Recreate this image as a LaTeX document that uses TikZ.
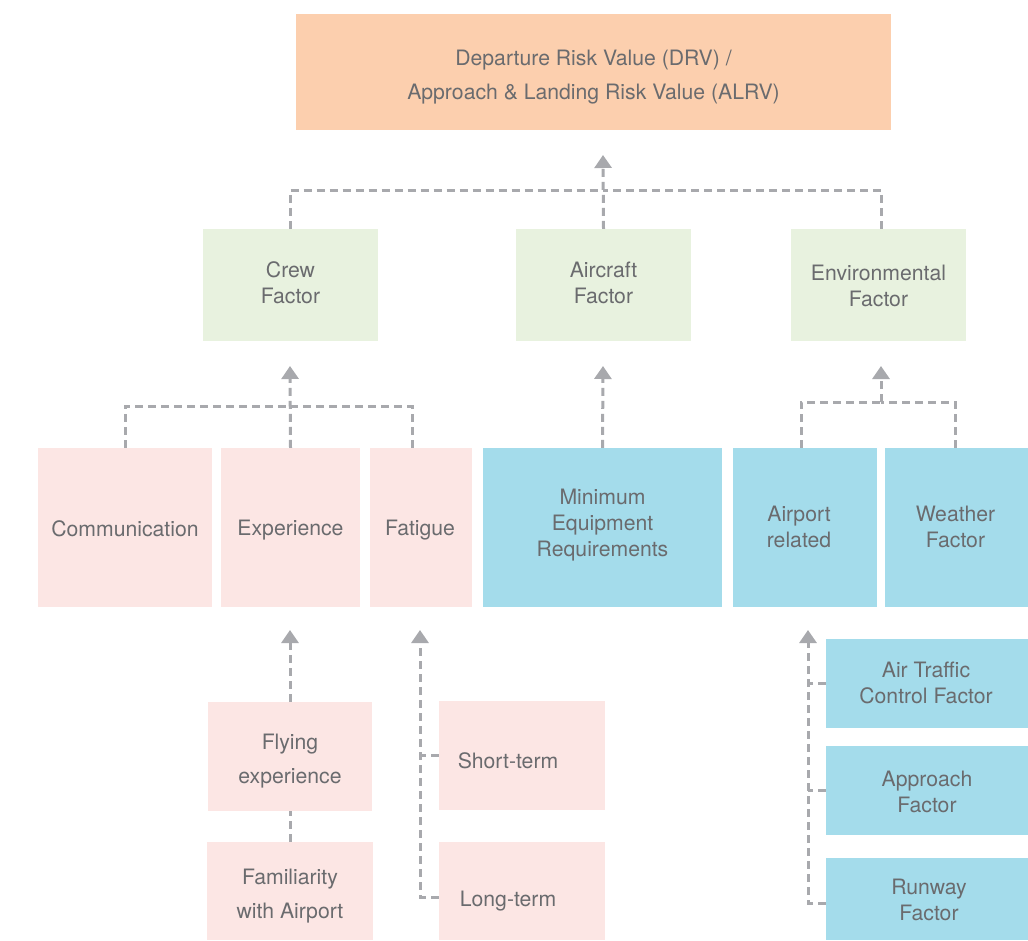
\documentclass[tikz,border=0pt]{standalone}
\usepackage{fontspec}
\setmainfont{TeX Gyre Heros}
\usetikzlibrary{arrows.meta}
\definecolor{txt}{HTML}{6A6B6E}
\definecolor{lineg}{HTML}{A8A9AD}
\definecolor{orangebox}{HTML}{FCCFAE}
\definecolor{greenbox}{HTML}{E8F2DF}
\definecolor{pinkbox}{HTML}{FCE6E4}
\definecolor{bluebox}{HTML}{A4DCEB}
\tikzset{
  box/.style={inner sep=0pt},
  label/.style={inner sep=0pt, align=center, text=txt,
    font=\fontsize{21.2}{26}\selectfont},
  wide/.style={font=\fontsize{21.2}{34}\selectfont},
  top/.style={box, fill=orangebox},
  grn/.style={box, fill=greenbox},
  pnk/.style={box, fill=pinkbox},
  blu/.style={box, fill=bluebox},
  conn/.style={draw=lineg, line width=3pt, dash pattern=on 8pt off 5pt},
  arr/.style={conn, -{Triangle[width=17pt,length=13pt]}},
}
% box by its corners (left, top, right, bottom) in a top-down frame,
% with its text moved by (dx, dy) from the centre
\newcommand{\boxat}[9]{%
  \node[#1, minimum width=#5-#3, minimum height=#6-#4] (#2) at ({(#3+#5)/2},{(#4+#6)/2}) {};
  \node[label] (#2-text) at ([xshift=#7pt,yshift=-#8pt]#2.center) {#9};}
\newcommand{\widebox}[9]{%
  \node[#1, minimum width=#5-#3, minimum height=#6-#4] (#2) at ({(#3+#5)/2},{(#4+#6)/2}) {};
  \node[label, wide] (#2-text) at ([xshift=#7pt,yshift=-#8pt]#2.center) {#9};}
\begin{document}
\begin{tikzpicture}[x=1pt,y=-1pt]
\useasboundingbox (0,0) rectangle (1028,940);

% top level
\widebox{top}{drv}{296}{14}{891}{130}{0}{5}{Departure Risk Value (DRV) /\\Approach \& Landing Risk Value (ALRV)}

% factor level
\boxat{grn}{crew}{203}{229}{378}{341}{0}{-2}{Crew\\Factor}
\boxat{grn}{aircraft}{516}{229}{691}{341}{0}{-2}{Aircraft\\Factor}
\boxat{grn}{env}{791}{229}{966}{341}{0}{1}{Environmental\\Factor}

% sub-factor level
\boxat{pnk}{comm}{38}{448}{212}{607}{0}{1}{Communication}
\boxat{pnk}{expe}{221}{448}{360}{607}{0}{3}{Experience}
\boxat{pnk}{fatigue}{370}{448}{472}{607}{-1}{3}{Fatigue}
\boxat{blu}{mer}{483}{448}{722}{607}{0}{-2}{Minimum\\Equipment\\Requirements}
\boxat{blu}{airport}{733}{448}{877}{607}{-6}{-1}{Airport\\related}
\boxat{blu}{weather}{885}{448}{1028}{607}{-1}{-1}{Weather\\Factor}

% detail level
\widebox{pnk}{fly}{208}{702}{372}{811}{0}{5}{Flying\\experience}
\widebox{pnk}{fam}{207}{842}{373}{940}{0}{5}{Familiarity\\with Airport}
\boxat{pnk}{short}{439}{701}{605}{810}{-14}{5}{Short-term}
\boxat{pnk}{long}{439}{842}{605}{940}{-14}{10}{Long-term}
\boxat{blu}{atc}{826}{639}{1028}{728}{-1}{-1}{Air Traffic\\Control Factor}
\boxat{blu}{appr}{826}{746}{1028}{835}{0}{1}{Approach\\Factor}
\boxat{blu}{rwy}{826}{858}{1028}{940}{2}{1}{Runway\\Factor}

% junctions and arrow tips
\coordinate (jtop) at (603,190);
\coordinate (ttop) at (603,155);
\coordinate (jcrew) at (290,406);
\coordinate (tcrew) at (290,366);
\coordinate (tair) at (603,366);
\coordinate (jenv) at (881,402);
\coordinate (tenv) at (881,366);
\coordinate (texp) at (290,630);
\coordinate (tfat) at (420,630);
\coordinate (tapt) at (808,630);

% factors into the risk value
\draw[conn] (crew.north) |- (jtop);
\draw[conn] ([xshift=2.5pt]env.north) |- (jtop);
\draw[arr] (aircraft.north) -- (ttop);

% crew sub-factors
\draw[conn] (comm.north) |- (jcrew);
\draw[conn] ([xshift=-9pt]fatigue.north) |- (jcrew);
\draw[arr] (expe.north) -- (tcrew);

% aircraft sub-factor
\draw[arr] (mer.north) -- (tair);

% environmental sub-factors
\draw[conn] ([xshift=-4pt]airport.north) |- (jenv);
\draw[conn] ([xshift=-1.5pt]weather.north) |- (jenv);
\draw[arr] (jenv) -- (tenv);

% experience details
\draw[arr] (fly.north) -- (texp);
\draw[conn] (fam.north) -- (fly.south);

% fatigue details
\draw[conn] (short.west) -- (short.west -| tfat);
\draw[arr] ([yshift=-6pt]long.west) -| (tfat);

% airport details
\draw[conn] (atc.west) -- (atc.west -| tapt);
\draw[conn] (appr.west) -- (appr.west -| tapt);
\draw[arr] ([yshift=-4pt]rwy.west) -| (tapt);
\end{tikzpicture}
\end{document}
